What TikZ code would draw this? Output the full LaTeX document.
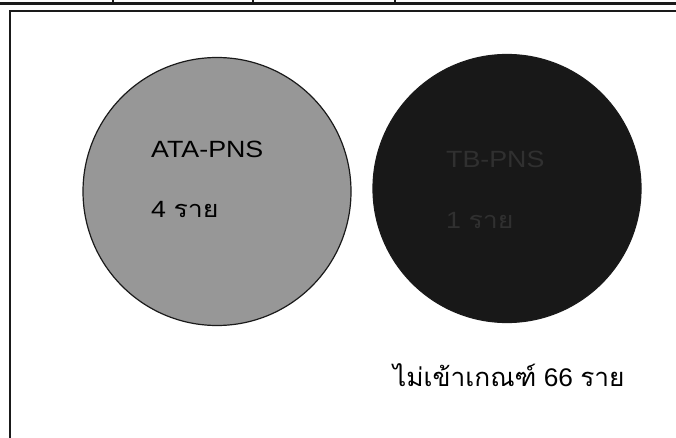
\documentclass[tikz,border=0pt]{standalone}
\usepackage{fontspec}
\usepackage{graphicx}
\setmainfont{Liberation Sans}
\newfontfamily\thaifont[Script=Thai]{Loma}
\definecolor{atagray}{HTML}{979797}
\definecolor{tbblack}{HTML}{181818}
\definecolor{tbtext}{HTML}{303030}
\definecolor{inkline}{HTML}{1A1A1A}
\newcommand{\wide}[2]{\scalebox{#1}[1]{#2}}
\begin{document}
\begin{tikzpicture}[x=1pt,y=-1pt,
  venn/.style={circle, draw=inkline, line width=1.2pt, minimum size=268pt, inner sep=0pt},
  lbl/.style={anchor=base west, inner sep=0pt, font=\fontsize{23.5}{28}\selectfont},
  framel/.style={draw=inkline, line width=2.3pt}]
\useasboundingbox (0,0) rectangle (676,438);
% top table rule
\coordinate (tl) at (0,3.5);
\coordinate (tr) at (676,3.5);
\draw[framel, line width=2.5pt] (tl) -- (tr);
\foreach \tx/\nm in {113/a,253/b,395/c}{
  \coordinate (t\nm0) at (\tx,0);
  \coordinate (t\nm1) at (\tx,3.5);
  \draw[framel, line width=1.5pt] (t\nm0) -- (t\nm1);
}
% frame
\coordinate (fr) at (677,11);
\coordinate (fc) at (10,11);
\coordinate (fb) at (10,439);
\draw[framel] (fr) -- (fc) -- (fb);
% circles
\node[venn, fill=atagray] (ata) at (217,191.5) {};
\node[venn, fill=tbblack] (tb) at (507,188.5) {};
% labels
\node[lbl] (ataname) at (151,158) {\wide{1.14}{ATA-PNS}};
\node[lbl] (atacount) at (151,218) {\wide{1.14}{4 {\thaifont ราย}}};
\node[lbl, text=tbtext] (tbname) at (446,168) {\wide{1.14}{TB-PNS}};
\node[lbl, text=tbtext] (tbcount) at (446,228) {\wide{1.14}{1 {\thaifont ราย}}};
\node[anchor=base west, inner sep=0pt, font=\fontsize{25.5}{30}\selectfont] (rest) at (393,386) {\wide{1.03}{{\thaifont ไม่เข้าเกณฑ์} 66 {\thaifont ราย}}};
\end{tikzpicture}
\end{document}
